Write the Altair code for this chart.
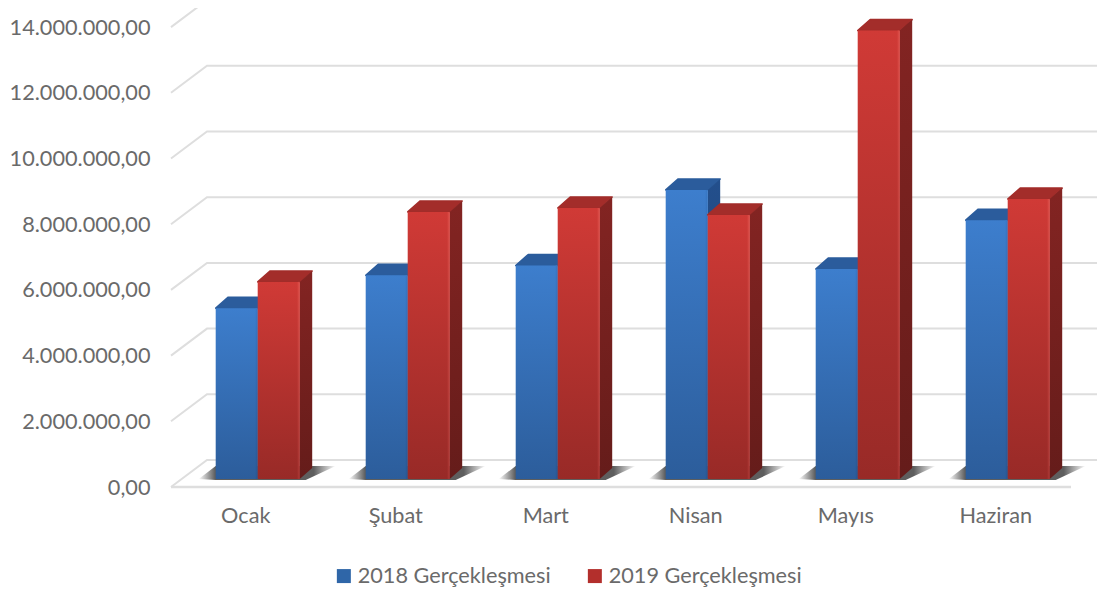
import altair as alt
import pandas as pd

categories = ["Ocak", "Şubat", "Mart", "Nisan", "Mayıs", "Haziran"]
series_names = ["2018 Gerçekleşmesi", "2019 Gerçekleşmesi"]
values_2018 = [5200000, 6200000, 6500000, 8800000, 6390000, 7880000]
values_2019 = [6000000, 8130000, 8250000, 8040000, 13650000, 8520000]
y_ticks = [0, 2000000, 4000000, 6000000, 8000000, 10000000, 12000000, 14000000]
y_labels = ["0,00", "2.000.000,00", "4.000.000,00", "6.000.000,00", "8.000.000,00",
            "10.000.000,00", "12.000.000,00", "14.000.000,00"]

FONT = "Lato"
TXT = "#6a6a6a"
GRID = "#dedede"
PX_PER_CAT = 150.0
PX_PER_MILLION = 32.85


def ux(px):
    return px / PX_PER_CAT


def uy(px):
    return px / PX_PER_MILLION * 1e6


PLOT_W, PLOT_H = 926, 479
x_scale = alt.Scale(domain=[0, PLOT_W / PX_PER_CAT], nice=False, zero=False)
y_scale = alt.Scale(domain=[0, uy(PLOT_H)], nice=False, zero=False)

cat_js = "[" + ",".join(f"'{c}'" for c in categories) + "]"
lab_js = "[" + ",".join(f"'{c}'" for c in y_labels) + "]"
x_axis = alt.Axis(values=[i + 0.495 for i in range(len(categories))],
                  labelExpr=f"{cat_js}[floor(datum.value)]", title=None, grid=False,
                  domain=False, ticks=False, labelFont=FONT, labelFontSize=21.7,
                  labelColor=TXT, labelPadding=18, labelAngle=0, labelFlush=False, labelOverlap=False)
y_axis = alt.Axis(values=y_ticks, labelExpr=f"{lab_js}[round(datum.value/2000000)]", title=None,
                  grid=False, domain=False, ticks=False, labelFont=FONT, labelFontSize=21.7,
                  labelColor=TXT, labelPadding=21, labelOverlap=False)
X = alt.X("x:Q", scale=x_scale, axis=x_axis)
Y = alt.Y("y:Q", scale=y_scale, axis=y_axis)

# wall and floor lines
wall_dx, wall_dy = ux(36), uy(27)
rows = []
for t in y_ticks:
    rows += [dict(k=t, x=0, y=t), dict(k=t, x=wall_dx, y=t + wall_dy),
             dict(k=t, x=PLOT_W / PX_PER_CAT, y=t + wall_dy)]
grid = alt.Chart(pd.DataFrame(rows)).mark_line(color=GRID, strokeWidth=2).encode(x=X, y=Y, detail="k:N")
floor = alt.Chart(pd.DataFrame({"x": [0, 6], "y": [0, 0]})).mark_line(color=GRID, strokeWidth=2.5).encode(x=X, y=Y)

# geometry of the columns
base = uy(8)
left0, bar_w = ux(44.7), ux(42)
depth_x, depth_y = ux(12.5), uy(11)
bevel = ux(2)


def parts(values, shift):
    top, side, front = [], [], []
    for i, v in enumerate(values):
        l = i + left0 + shift * bar_w
        r = l + bar_w
        t = v + base
        top += [dict(k=i, x=l, y=t, y2=t), dict(k=i, x=l + depth_x, y=t + depth_y, y2=t),
                dict(k=i, x=r, y=t + depth_y, y2=t), dict(k=i, x=r + depth_x, y=t + depth_y, y2=t + depth_y)]
        side += [dict(k=i, x=r, y=t, y2=base), dict(k=i, x=r + depth_x, y=t + depth_y, y2=base + depth_y)]
        front.append(dict(x=l, x1=r, x0=r - bevel, y=t, y2=base))
    return pd.DataFrame(top), pd.DataFrame(side), pd.DataFrame(front)


def vgrad(a, b):
    return alt.LinearGradient(gradient="linear", x1=0, x2=0, y1=0, y2=1,
                              stops=[alt.GradientStop(color=a, offset=0), alt.GradientStop(color=b, offset=1)])


def column_layers(values, shift, c_top, c_side, c_front, c_bevel):
    t, s, f = parts(values, shift)
    return [
        alt.Chart(t).mark_area(color=c_top, stroke=c_top, strokeWidth=1.5, strokeJoin="round",
                               orient="vertical").encode(x=X, y=Y, y2="y2:Q", detail="k:N"),
        alt.Chart(s).mark_area(color=vgrad(*c_side), orient="vertical").encode(x=X, y=Y, y2="y2:Q", detail="k:N"),
        alt.Chart(f).mark_bar(color=vgrad(*c_front), cornerRadius=1).encode(x=X, x2="x1:Q", y=Y, y2="y2:Q"),
        alt.Chart(f).mark_bar(color=vgrad(*c_bevel)).encode(
            x=alt.X("x0:Q", scale=x_scale, axis=x_axis), x2="x1:Q", y=Y, y2="y2:Q"),
    ]


# floor shadows
sh = []
for i in range(len(categories)):
    l = i + left0
    r = l + 2 * bar_w
    sh += [dict(k=i, x=l - ux(17), y=base, y2=base),
           dict(k=i, x=l, y=base + uy(13), y2=base - uy(1)),
           dict(k=i, x=r + ux(6), y=base + uy(13), y2=base - uy(1)),
           dict(k=i, x=r + ux(36), y=base + uy(13), y2=base + uy(13))]
shadow_fill = alt.LinearGradient(gradient="linear", x1=0, x2=1, y1=0, y2=0, stops=[
    alt.GradientStop(color="#ffffff", offset=0), alt.GradientStop(color="#5e5e5e", offset=0.12),
    alt.GradientStop(color="#5e5e5e", offset=0.84), alt.GradientStop(color="#ffffff", offset=1)])
shadows = alt.Chart(pd.DataFrame(sh)).mark_area(color=shadow_fill, orient="vertical").encode(
    x=X, y=Y, y2="y2:Q", detail="k:N")

# legend carrier: columns of zero height, coloured by series
leg_rows = []
for name, vals in zip(series_names, [values_2018, values_2019]):
    leg_rows += [dict(series=name, x=i + left0, x1=i + left0 + bar_w, y=base, y2=base) for i, _ in enumerate(vals)]
legend = alt.Chart(pd.DataFrame(leg_rows)).mark_bar().encode(
    x=X, x2="x1:Q", y=Y, y2="y2:Q",
    color=alt.Color("series:N", scale=alt.Scale(domain=series_names, range=["#2f66a8", "#b32f2c"]),
                    legend=alt.Legend(orient="none", legendX=162, legendY=557, direction="horizontal",
                                      title=None, columns=2, symbolType="square", symbolSize=196,
                                      symbolStrokeWidth=0, labelFont=FONT, labelFontSize=21.7, labelColor=TXT,
                                      labelOffset=3, columnPadding=33, padding=0, labelLimit=300)))

layers = [grid, floor, shadows, legend]
layers += column_layers(values_2018, 0, "#2b5c9c", ("#234f8c", "#1c3f6e"), ("#3d7ecd", "#2c5d9b"),
                        ("#3878c5", "#295893"))
layers += column_layers(values_2019, 1, "#a32d2a", ("#832422", "#651c1a"), ("#d03a36", "#982a27"),
                        ("#d94a45", "#a63431"))

chart = alt.layer(*layers).properties(
    width=PLOT_W, height=PLOT_H, background="white",
    autosize=alt.AutoSizeParams(type="none"),
    padding={"left": 163, "top": 0, "right": 0, "bottom": 100},
).configure_view(stroke=None)

chart.save("out.html", embed_options={"renderer": "svg", "actions": False})
